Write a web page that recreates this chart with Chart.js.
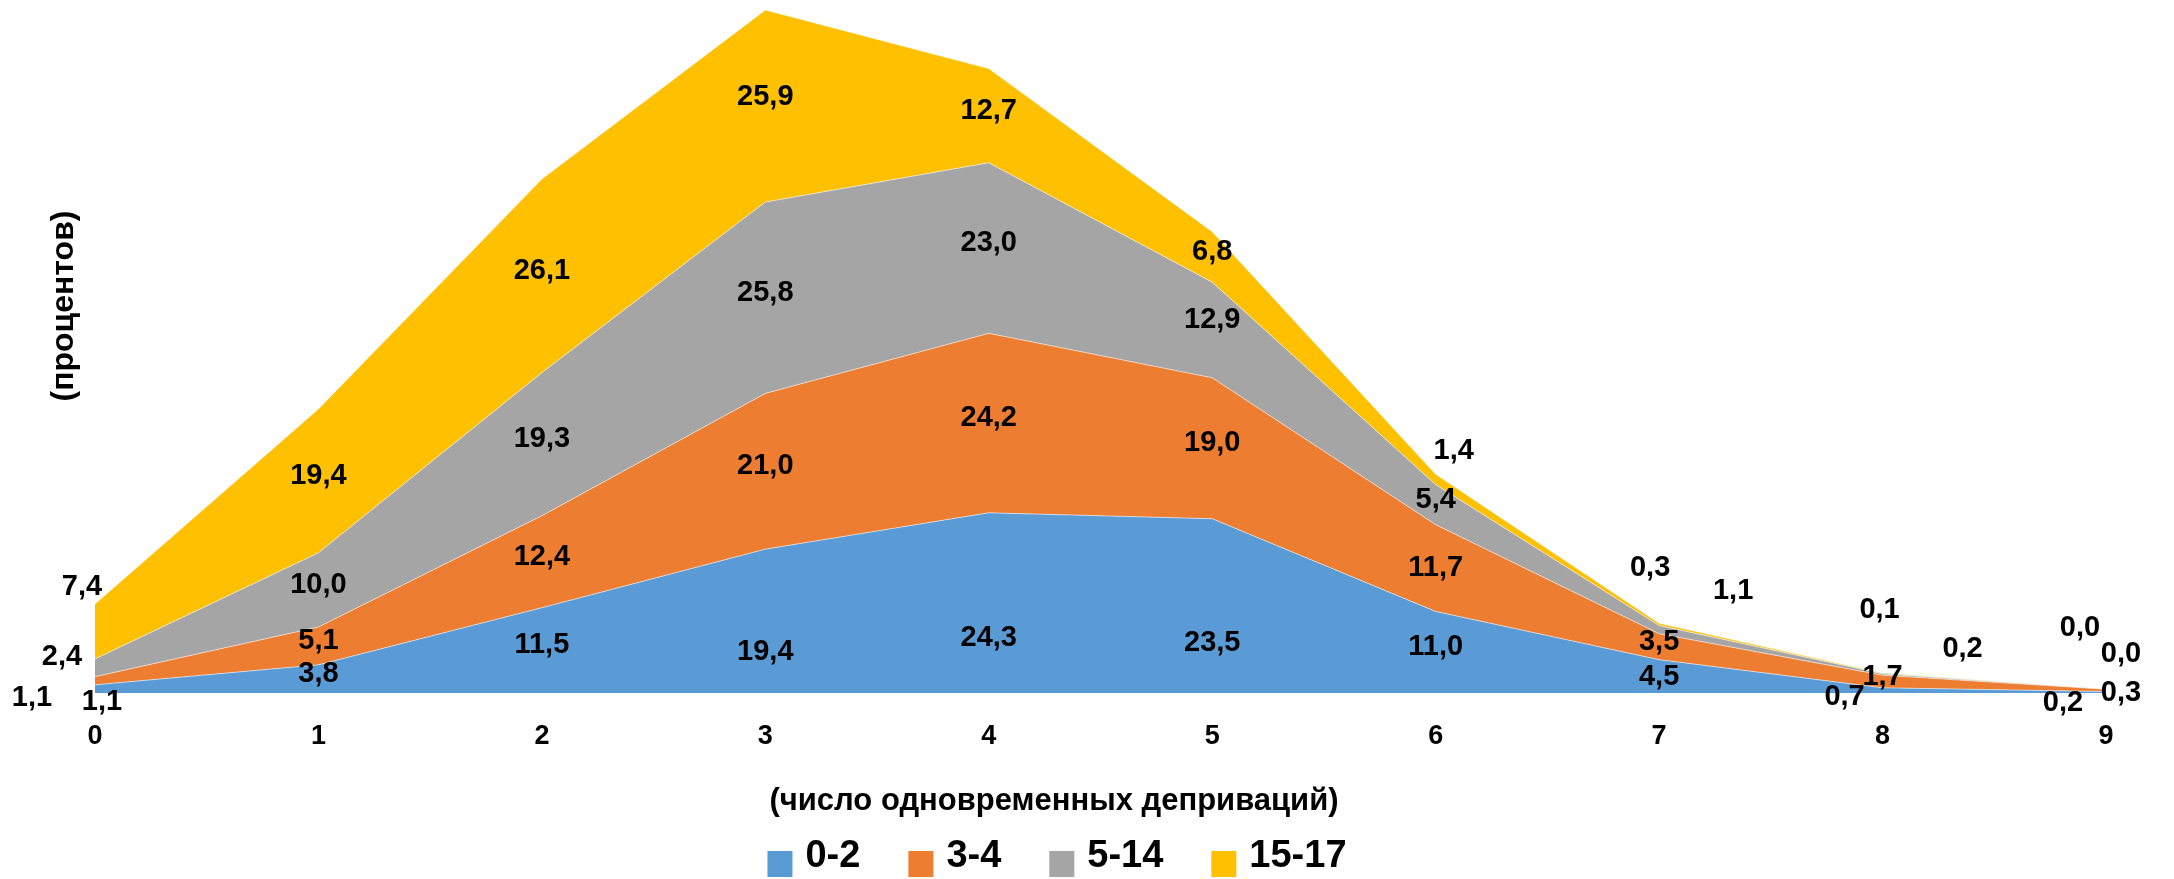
<!DOCTYPE html>
<html>
<head>
<meta charset="utf-8">
<script src="https://cdn.jsdelivr.net/npm/chart.js@4.4.1/dist/chart.umd.min.js"></script>
<style>
    html, body { margin: 0; padding: 0; background: #ffffff; }
    #wrap { width: 2174px; height: 879px; }
</style>
</head>
<body>
<div id="wrap"><canvas id="chart_depriv"></canvas></div>
<script>
// data
var categories = ["0", "1", "2", "3", "4", "5", "6", "7", "8", "9"];
var seriesNames = ["0-2", "3-4", "5-14", "15-17"];
var values02 = [1.1, 3.8, 11.5, 19.4, 24.3, 23.5, 11.0, 4.5, 0.7, 0.2];
var values34 = [1.1, 5.1, 12.4, 21.0, 24.2, 19.0, 11.7, 3.5, 1.7, 0.3];
var values514 = [2.4, 10.0, 19.3, 25.8, 23.0, 12.9, 5.4, 1.1, 0.2, 0.0];
var values1517 = [7.4, 19.4, 26.1, 25.9, 12.7, 6.8, 1.4, 0.3, 0.1, 0.0];

var colors = ["#5B9BD5", "#ED7D31", "#A5A5A5", "#FFC000"];
var FONT = "'Liberation Sans', Arial, sans-serif";

// label nudges (dataset:index -> [dx, dy]) where labels were moved by hand
var labelShift = {
    "0:0": [7, 18], "0:3": [0, 36], "0:4": [0, 40], "0:5": [0, 42], "0:7": [0, 6], "0:8": [-38, 12], "0:9": [-43, 16],
    "1:0": [-63, 22], "1:6": [0, 5], "1:9": [15, 8],
    "2:0": [-33, -6], "2:5": [0, -5], "2:7": [74, -34], "2:8": [80, -20], "2:9": [15, -30],
    "3:0": [-13, -39], "3:3": [0, -4], "3:6": [18, -23], "3:7": [-9, -51], "3:8": [-3, -58], "3:9": [-26, -56]
};

function formatValue(v) {
    return v.toFixed(1).replace(".", ",");
}

var labelsPlugin = {
    id: "areaLabels",
    afterDatasetsDraw: function (chart) {
        var ctx = chart.ctx;
        var yScale = chart.scales.y;
        ctx.save();
        ctx.font = "bold 29px " + FONT;
        ctx.fillStyle = "#000000";
        ctx.textAlign = "center";
        ctx.textBaseline = "middle";
        chart.data.datasets.forEach(function (ds, d) {
            var meta = chart.getDatasetMeta(d);
            meta.data.forEach(function (pt, i) {
                var base = d === 0 ? yScale.getPixelForValue(0) : chart.getDatasetMeta(d - 1).data[i].y;
                var mid = (pt.y + base) / 2 - 5;
                var s = labelShift[d + ":" + i] || [0, 0];
                ctx.fillText(formatValue(ds.data[i]), pt.x + s[0], mid + s[1]);
            });
        });
        ctx.restore();
    }
};

var textPlugin = {
    id: "titlesLegend",
    afterDraw: function (chart) {
        var ctx = chart.ctx;
        ctx.save();
        ctx.fillStyle = "#000000";
        ctx.textBaseline = "middle";
        ctx.textAlign = "center";

        // x axis title
        ctx.font = "bold 31px " + FONT;
        ctx.fillText("(число одновременных деприваций)", 1054, 801);

        // y axis title
        ctx.save();
        ctx.translate(64, 306);
        ctx.rotate(-Math.PI / 2);
        ctx.font = "bold 32px " + FONT;
        ctx.fillText("(процентов)", 0, 0);
        ctx.restore();

        // legend
        ctx.font = "bold 38px " + FONT;
        ctx.textAlign = "left";
        var box = 25, gap = 13, spacing = 48;
        var widths = chart.data.datasets.map(function (ds) {
            return box + gap + ctx.measureText(ds.label).width;
        });
        var total = widths.reduce(function (a, b) { return a + b; }, 0) + spacing * (widths.length - 1);
        var x = 1057 - total / 2;
        chart.data.datasets.forEach(function (ds, d) {
            ctx.fillStyle = ds.backgroundColor;
            ctx.fillRect(x, 851, box, 26);
            ctx.fillStyle = "#000000";
            ctx.fillText(ds.label, x + box + gap, 857);
            x += widths[d] + spacing;
        });
        ctx.restore();
    }
};

var seriesValues = [values02, values34, values514, values1517];
var datasets = seriesValues.map(function (vals, k) {
    return {
        label: seriesNames[k],
        data: vals,
        backgroundColor: colors[k],
        borderColor: "rgba(255,255,255,0.55)",
        borderWidth: 1,
        pointRadius: 0,
        pointHoverRadius: 0,
        tension: 0,
        fill: k === 0 ? "origin" : "-1"
    };
});

var ctxChart = document.getElementById("chart_depriv").getContext("2d");
var chart = new Chart(ctxChart, {
    type: "line",
    data: {
        labels: categories,
        datasets: datasets
    },
    options: {
        responsive: true,
        maintainAspectRatio: false,
        animation: false,
        layout: {
            padding: { left: 95, right: 68, top: 10, bottom: 0 }
        },
        plugins: {
            legend: { display: false },
            tooltip: { enabled: false },
            title: { display: false }
        },
        scales: {
            x: {
                offset: false,
                grid: { display: false, drawTicks: false },
                border: { display: false },
                ticks: {
                    color: "#000000",
                    padding: 27,
                    maxRotation: 0,
                    autoSkip: false,
                    font: { family: FONT, size: 27, weight: "bold" }
                },
                afterFit: function (scale) {
                    scale.height = 186;
                }
            },
            y: {
                display: false,
                stacked: true,
                min: 0,
                max: 92.1
            }
        }
    },
    plugins: [labelsPlugin, textPlugin]
});
</script>
</body>
</html>
